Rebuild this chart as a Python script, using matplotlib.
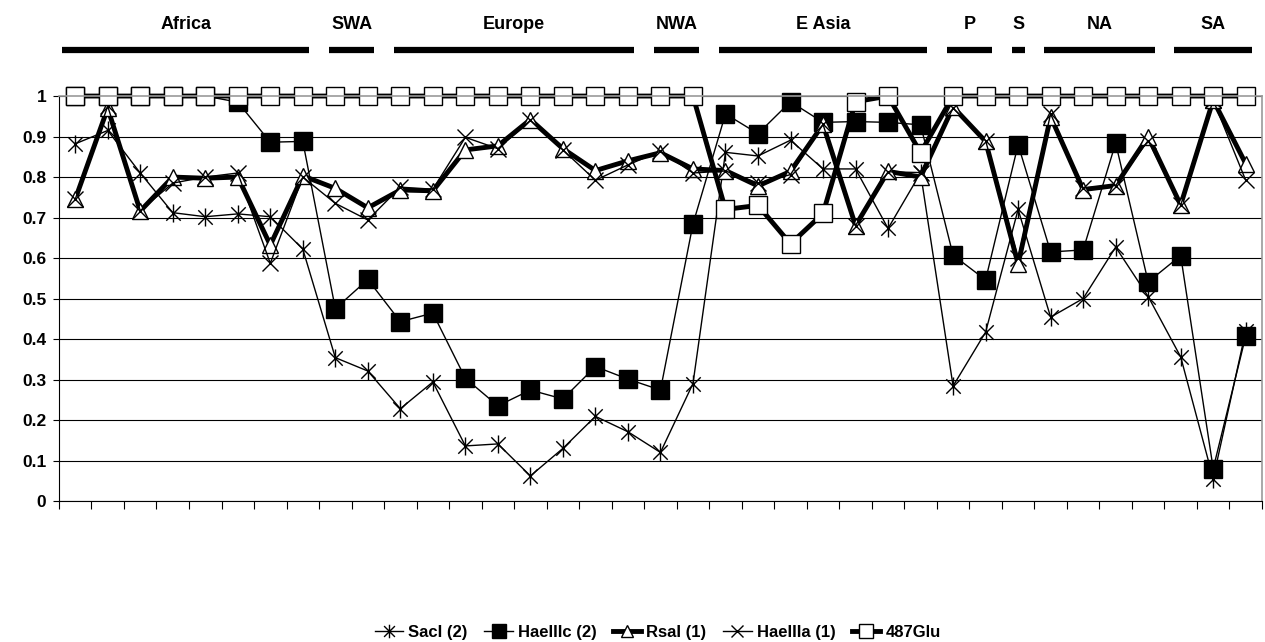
import numpy as np
import matplotlib
matplotlib.use('Agg')
import matplotlib.pyplot as plt
from matplotlib.path import Path
import matplotlib.transforms as mtransforms

plt.rcParams['font.family'] = ['Liberation Sans', 'DejaVu Sans']
plt.rcParams['font.weight'] = 'bold'

# region groups (name, first index, last index)
groups = ['Africa', 'SWA', 'Europe', 'NWA', 'E Asia', 'P', 'S', 'NA', 'SA']
group_start = [0, 8, 10, 18, 20, 27, 29, 30, 34]
group_end = [7, 9, 17, 19, 26, 28, 29, 33, 36]

sacI = [0.882, 0.915, 0.81, 0.712, 0.702, 0.709, 0.702, 0.622, 0.354, 0.321,
        0.228, 0.294, 0.136, 0.141, 0.062, 0.13, 0.209, 0.171, 0.12, 0.29,
        0.861, 0.852, 0.891, 0.82, 0.82, 0.673, 0.81, 0.284, 0.417, 0.72,
        0.454, 0.50, 0.627, 0.505, 0.356, 0.055, 0.42]
haeIIIc = [1.0, 1.0, 1.0, 1.0, 1.0, 0.985, 0.886, 0.888, 0.475, 0.547,
           0.443, 0.464, 0.303, 0.235, 0.274, 0.252, 0.332, 0.301, 0.274, 0.684,
           0.956, 0.907, 0.986, 0.935, 0.937, 0.935, 0.929, 0.607, 0.546, 0.88,
           0.615, 0.62, 0.884, 0.541, 0.606, 0.08, 0.407]
rsaI = [0.745, 0.97, 0.716, 0.80, 0.797, 0.80, 0.632, 0.803, 0.772, 0.724,
        0.768, 0.766, 0.867, 0.877, 0.942, 0.87, 0.816, 0.84, 0.86, 0.82,
        0.816, 0.778, 0.814, 0.93, 0.68, 0.814, 0.80, 0.973, 0.888, 0.585,
        0.949, 0.769, 0.779, 0.90, 0.731, 0.99, 0.833]
haeIIIa = [0.745, 0.975, 0.717, 0.785, 0.80, 0.81, 0.587, 0.80, 0.735, 0.694,
           0.775, 0.77, 0.898, 0.87, 0.94, 0.867, 0.792, 0.83, 0.864, 0.81,
           0.815, 0.785, 0.806, 0.93, 0.68, 0.813, 0.811, 0.97, 0.89, 0.60,
           0.956, 0.773, 0.779, 0.89, 0.73, 0.99, 0.792]
glu487 = [1.0] * 20 + [0.72, 0.73, 0.635, 0.71, 0.986, 1.0, 0.86] + [1.0] * 10

x = np.arange(len(sacI))

# asterisk marker: vertical bar plus an x
ast = Path([(0, -1), (0, 1), (-0.8, -0.8), (0.8, 0.8), (-0.8, 0.8), (0.8, -0.8)],
           [Path.MOVETO, Path.LINETO, Path.MOVETO, Path.LINETO, Path.MOVETO, Path.LINETO])

fig = plt.figure(figsize=(12.65, 6.42), dpi=100)
ax = fig.add_axes([0.0466, 0.2196, 0.951, 0.6308])

ax.plot(x, sacI, color='black', lw=1.0, marker=ast, markersize=13,
        markeredgewidth=1.0, label='SacI (2)', clip_on=False)
ax.plot(x, haeIIIc, color='black', lw=1.0, marker='s', markersize=13,
        markerfacecolor='black', markeredgecolor='black', label='HaeIIIc (2)', clip_on=False)
ax.plot(x, rsaI, color='black', lw=3.5, marker='^', markersize=11,
        markerfacecolor='white', markeredgecolor='black', markeredgewidth=1.0,
        label='RsaI (1)', clip_on=False)
ax.plot(x, haeIIIa, color='black', lw=1.0, marker='x', markersize=12,
        markeredgewidth=1.0, label='HaeIIIa (1)', clip_on=False)
ax.plot(x, glu487, color='black', lw=3.5, marker='s', markersize=13,
        markerfacecolor='white', markeredgecolor='black', markeredgewidth=1.0,
        label='487Glu', clip_on=False)

ax.set_xlim(-0.5, len(x) - 0.5)
ax.set_ylim(0, 1)
ax.set_yticks(np.arange(0, 1.01, 0.1))
ax.set_yticklabels(['0', '0.1', '0.2', '0.3', '0.4', '0.5', '0.6', '0.7', '0.8', '0.9', '1'],
                   fontsize=12.5, fontweight='bold')
ax.set_xticks(np.arange(-0.5, len(x), 1.0))
ax.set_xticklabels([])
ax.tick_params(axis='x', direction='out', length=6, width=0.8)
ax.tick_params(axis='y', direction='out', length=4, width=0.8, pad=5)
ax.yaxis.grid(True, color='black', lw=0.8)
ax.set_axisbelow(True)
for s in ['top', 'right']:
    ax.spines[s].set_color('#999999')
    ax.spines[s].set_linewidth(1.2)
for s in ['left', 'bottom']:
    ax.spines[s].set_color('black')
    ax.spines[s].set_linewidth(0.8)

# region labels and bars above the plot
trans = mtransforms.blended_transform_factory(ax.transData, fig.transFigure)
for name, s, e in zip(groups, group_start, group_end):
    x0 = s - 0.5 + (0.1 if s == 0 else 0.3)
    x1 = e + 0.5 - 0.3
    ax.plot([x0, x1], [0.922, 0.922], color='black', lw=4.5, transform=trans,
            clip_on=False, solid_capstyle='butt')
    ax.text((x0 + x1) / 2, 0.962, name, transform=trans, ha='center', va='center',
            fontsize=13, fontweight='bold')

leg = fig.legend(loc='lower center', bbox_to_anchor=(0.52, -0.02), ncol=5, frameon=False,
                 handlelength=1.7, handletextpad=0.3, columnspacing=1.0, markerscale=0.75,
                 prop={'weight': 'bold', 'size': 12})

fig.savefig('out.png', dpi=100)
